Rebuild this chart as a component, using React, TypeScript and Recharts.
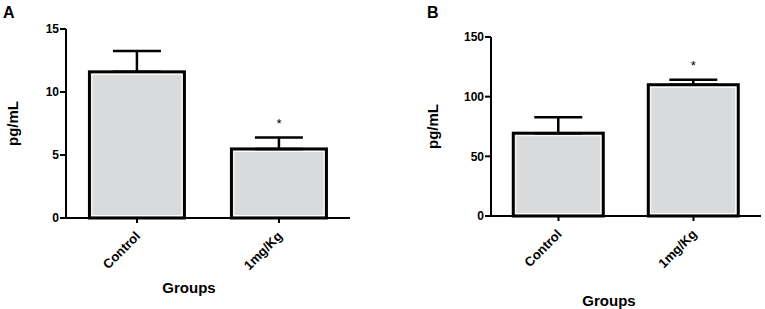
import { BarChart, Bar, XAxis, YAxis, ErrorBar, Label } from "recharts";

const groups = ["Control", "1mg/Kg"];
const significance = ["", "*"];

const panelAValues = [11.6, 5.48];
const panelAErrors = [1.65, 0.9];
const panelATicks = [0, 5, 10, 15];

const panelBValues = [69.4, 110];
const panelBErrors = [13.3, 4.2];
const panelBTicks = [0, 50, 100, 150];

const font = '"Liberation Sans", Arial, sans-serif';

const buildRows = (values: number[], errors: number[]) =>
  groups.map((group, i) => ({
    group,
    value: values[i],
    err: [0, errors[i]],
    sig: significance[i],
  }));

const rowsA = buildRows(panelAValues, panelAErrors);
const rowsB = buildRows(panelBValues, panelBErrors);

const axisLine = { stroke: "#000", strokeWidth: 2 };

const AngledTick = (props: any) => {
  const { x, y, payload } = props;
  const ax = x + 4;
  const ay = y + 12;
  return (
    <text
      x={ax}
      y={ay}
      transform={`rotate(-45, ${ax}, ${ay})`}
      textAnchor="end"
      fontSize={13}
      fontWeight="bold"
      fontFamily={font}
      fill="#000"
    >
      {payload.value}
    </text>
  );
};

// grey bar with thick black outline, thin white inner line, and the star over the error bar
const OutlinedBar = (props: any) => {
  const { x, y, width, height, payload } = props;
  if (!height) return null;
  const pxPerUnit = height / payload.value;
  const errTop = y - payload.err[1] * pxPerUnit;
  return (
    <g>
      <rect x={x} y={y} width={width} height={height} fill="#d9dadc" stroke="#000" strokeWidth={3} />
      <rect
        x={x + 2.5}
        y={y + 2.5}
        width={width - 5}
        height={height - 5}
        fill="none"
        stroke="#fff"
        strokeWidth={1}
      />
      {payload.sig && (
        <text
          x={x + width / 2}
          y={errTop - 10}
          textAnchor="middle"
          fontSize={13}
          fontFamily={font}
          fill="#000"
        >
          {payload.sig}
        </text>
      )}
    </g>
  );
};

interface PanelProps {
  rows: any[];
  ticks: number[];
  width: number;
  top: number;
  right: number;
  xHeight: number;
  yWidth: number;
  yLabelOffset: number;
  groupsOffset: number;
  groupsDx: number;
}

const Panel = ({ rows, ticks, width, top, right, xHeight, yWidth, yLabelOffset, groupsOffset, groupsDx }: PanelProps) => (
  <BarChart
    width={width}
    height={309}
    data={rows}
    margin={{ top, right, left: 0, bottom: 0 }}
    barCategoryGap="16.5%"
  >
    <XAxis
      dataKey="group"
      height={xHeight}
      interval={0}
      tick={<AngledTick />}
      tickSize={5}
      axisLine={axisLine}
      tickLine={axisLine}
    >
      <Label
        value="Groups"
        position="insideBottom"
        offset={groupsOffset}
        dx={groupsDx}
        fontSize={15}
        fontWeight="bold"
        fontFamily={font}
        fill="#000"
      />
    </XAxis>
    <YAxis
      domain={[ticks[0], ticks[ticks.length - 1]]}
      ticks={ticks}
      interval={0}
      width={yWidth}
      tickSize={6}
      tickMargin={1}
      axisLine={axisLine}
      tickLine={axisLine}
      tick={{ fontSize: 12, fontWeight: "bold", fontFamily: font, fill: "#000" }}
    >
      <Label
        value="pg/mL"
        angle={-90}
        position="insideLeft"
        offset={yLabelOffset}
        fontSize={15}
        fontWeight="bold"
        fontFamily={font}
        fill="#000"
        style={{ textAnchor: "middle" }}
      />
    </YAxis>
    <Bar dataKey="value" shape={<OutlinedBar />} isAnimationActive={false}>
      <ErrorBar
        dataKey="err"
        direction="y"
        width={24}
        stroke="#000"
        strokeWidth={2.5}
        isAnimationActive={false}
      />
    </Bar>
  </BarChart>
);

const titleStyle = {
  position: "absolute" as const,
  fontFamily: font,
  fontWeight: "bold" as const,
  fontSize: 16,
  lineHeight: 1,
  color: "#000",
};

export default function App() {
  return (
    <div style={{ position: "absolute", left: 0, top: 0, width: 765, height: 309, background: "#fff" }}>
      <div style={{ position: "absolute", left: 0, top: 0 }}>
        <Panel
          rows={rowsA}
          ticks={panelATicks}
          width={385}
          top={29}
          right={35}
          xHeight={91}
          yWidth={66}
          yLabelOffset={13}
          groupsOffset={16}
          groupsDx={-19}
        />
      </div>
      <div style={{ position: "absolute", left: 385, top: 0 }}>
        <Panel
          rows={rowsB}
          ticks={panelBTicks}
          width={380}
          top={37}
          right={4}
          xHeight={93}
          yWidth={106}
          yLabelOffset={48}
          groupsOffset={3}
          groupsDx={-17}
        />
      </div>
      <div style={{ ...titleStyle, left: 3, top: 5 }}>A</div>
      <div style={{ ...titleStyle, left: 427, top: 5 }}>B</div>
    </div>
  );
}
